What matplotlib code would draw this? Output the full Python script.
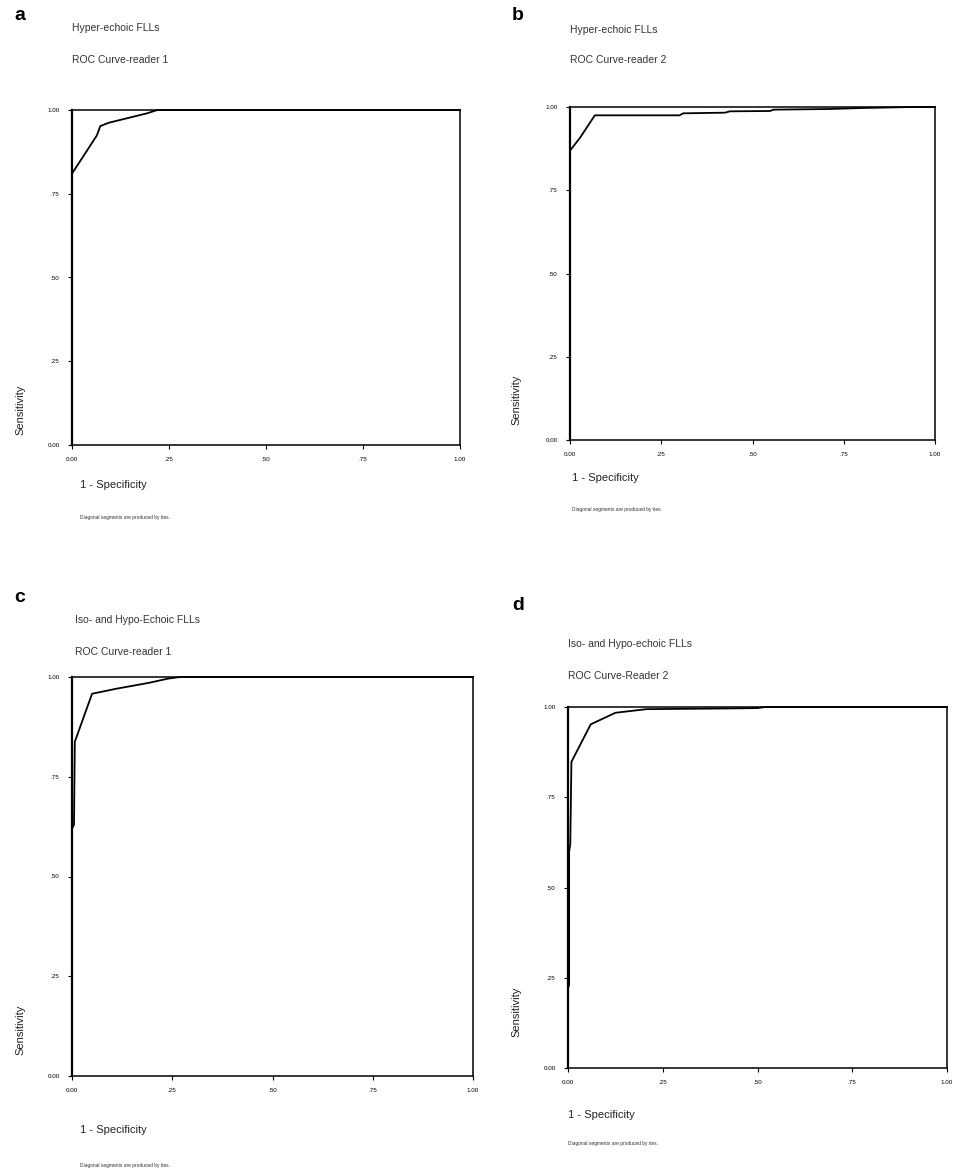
import matplotlib
matplotlib.use("Agg")
import matplotlib.pyplot as plt

plt.rcParams['font.family'] = ['Liberation Sans', 'DejaVu Sans']

W, H = 958, 1172

# ROC curves (1 - specificity, sensitivity)
a_fpr = [0.0, 0.0, 0.064, 0.073, 0.095, 0.193, 0.22, 1.0]
a_tpr = [0.0, 0.81, 0.924, 0.952, 0.962, 0.99, 1.0, 1.0]

b_fpr = [0.0, 0.0, 0.027, 0.068, 0.30, 0.31, 0.425, 0.438, 0.548, 0.557, 0.71, 0.80, 0.94, 1.0]
b_tpr = [0.0, 0.869, 0.907, 0.975, 0.975, 0.981, 0.983, 0.987, 0.988, 0.992, 0.994, 0.997, 1.0, 1.0]

c_fpr = [0.0, 0.0, 0.005, 0.007, 0.05, 0.1125, 0.19, 0.24, 0.27, 1.0]
c_tpr = [0.0, 0.62, 0.63, 0.8375, 0.958, 0.971, 0.985, 0.996, 1.0, 1.0]

d_fpr = [0.0, 0.0, 0.003, 0.003, 0.006, 0.009, 0.06, 0.125, 0.207, 0.42, 0.5, 0.52, 1.0]
d_tpr = [0.0, 0.22, 0.23, 0.60, 0.62, 0.848, 0.952, 0.984, 0.994, 0.996, 0.997, 1.0, 1.0]

titles = [
    ("Hyper-echoic FLLs", "ROC Curve-reader 1"),
    ("Hyper-echoic FLLs", "ROC Curve-reader 2"),
    ("Iso- and Hypo-Echoic FLLs", "ROC Curve-reader 1"),
    ("Iso- and Hypo-echoic FLLs", "ROC Curve-Reader 2"),
]
letters = ["a", "b", "c", "d"]
ticks = [0.0, 0.25, 0.5, 0.75, 1.0]
x_ticklabels = ["0.00", ".25", ".50", ".75", "1.00"]
y_ticklabels = ["0.00", ".25", ".50", ".75", "1.00"]
footnote = "Diagonal segments are produced by ties."

curves = [(a_fpr, a_tpr), (b_fpr, b_tpr), (c_fpr, c_tpr), (d_fpr, d_tpr)]

# axes boxes in pixels: left, top, right, bottom
boxes = [
    (72, 110, 460, 445),
    (570, 107, 935, 440),
    (72, 677, 473, 1076),
    (568, 707, 947, 1068),
]
# text anchors in pixels
letter_pos = [(14, 16), (512, 16), (14, 598), (512, 606)]
title_pos = [(72, 28, 60), (570, 30, 60), (75, 620, 652), (568, 644, 676)]
xlabel_pos = [(80, 485), (572, 478), (80, 1130), (568, 1115)]
foot_pos = [(80, 518), (572, 510), (80, 1165), (568, 1143)]
ylabel_pos = [(20, 410), (516, 400), (20, 1030), (516, 1012)]


def fx(x):
    return x / W


def fy(y):
    return 1 - y / H


fig = plt.figure(figsize=(W / 100, H / 100), dpi=100)

for i in range(4):
    l, t, r, b = boxes[i]
    ax = fig.add_axes([fx(l), fy(b), (r - l) / W, (b - t) / H])
    fpr, tpr = curves[i]
    ax.plot(fpr, tpr, color='black', lw=1.3, clip_on=False)
    ax.set_xlim(0, 1)
    ax.set_ylim(0, 1)
    ax.set_xticks(ticks)
    ax.set_yticks(ticks)
    ax.set_xticklabels(x_ticklabels)
    ax.set_yticklabels(y_ticklabels)
    ax.tick_params(labelsize=4.5, length=3, width=0.8, colors='black', pad=6)
    for s in ax.spines.values():
        s.set_linewidth(1.1)
    ax.spines['left'].set_linewidth(1.6)

    lx, ly = letter_pos[i]
    fig.text(fx(lx), fy(ly), letters[i], fontsize=14, fontweight='bold', va='center', ha='left')
    tx, ty1, ty2 = title_pos[i]
    fig.text(fx(tx), fy(ty1), titles[i][0], fontsize=7.5, color='#333333', va='center', ha='left')
    fig.text(fx(tx), fy(ty2), titles[i][1], fontsize=7.5, color='#333333', va='center', ha='left')
    xx, xy = xlabel_pos[i]
    fig.text(fx(xx), fy(xy), "1 - Specificity", fontsize=8, color='#222222', va='center', ha='left')
    nx, ny = foot_pos[i]
    fig.text(fx(nx), fy(ny), footnote, fontsize=3.5, color='#333333', va='center', ha='left')
    sx, sy = ylabel_pos[i]
    fig.text(fx(sx), fy(sy), "Sensitivity", fontsize=8, color='#222222', rotation=90,
             va='center', ha='center')

fig.savefig("out.png", dpi=100, facecolor='white')
